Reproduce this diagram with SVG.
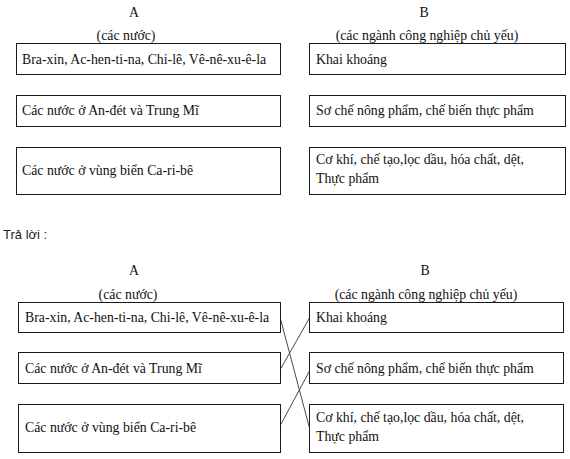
<svg xmlns="http://www.w3.org/2000/svg" width="570" height="459" viewBox="0 0 570 459">
<style>
.bx{fill:none;stroke:#1a1a1a;stroke-width:1}
.t{font-family:"Liberation Serif","Times New Roman",serif;font-size:13.8px;fill:#111}
.h{font-family:"Liberation Serif","Times New Roman",serif;font-size:13.8px;fill:#111;text-anchor:middle}
.s{font-family:"Liberation Sans",Arial,sans-serif;font-size:13px;fill:#222}
.ln{stroke:#333;stroke-width:0.9;fill:none}
</style>
<rect width="570" height="459" fill="#fff"/>
<g id="headers-top">
<text class="h" x="134" y="17">A</text>
<text class="h" x="126" y="40">(các nước)</text>
<text class="h" x="424" y="17">B</text>
<text class="h" x="427" y="40">(các ngành công nghiệp chủ yếu)</text>
</g>
<g id="top-a1"><rect class="bx" x="16.5" y="43.5" width="264" height="31"/><text class="t" x="22" y="64">Bra-xin, Ac-hen-ti-na, Chi-lê, Vê-nê-xu-ê-la</text></g>
<g id="top-a2"><rect class="bx" x="16.5" y="95.5" width="264" height="31"/><text class="t" x="22" y="115">Các nước ở An-đét và Trung Mĩ</text></g>
<g id="top-a3"><rect class="bx" x="16.5" y="147.5" width="264" height="47"/><text class="t" x="22" y="175">Các nước ở vùng biển Ca-ri-bê</text></g>
<g id="top-b1"><rect class="bx" x="309.5" y="43.5" width="256" height="31"/><text class="t" x="316" y="64">Khai khoáng</text></g>
<g id="top-b2"><rect class="bx" x="309.5" y="95.5" width="256" height="31"/><text class="t" x="316" y="115">Sơ chế nông phẩm, chế biến thực phẩm</text></g>
<g id="top-b3"><rect class="bx" x="309.5" y="147.5" width="256" height="47"/><text class="t" x="316" y="164">Cơ khí, chế tạo,lọc dầu, hóa chất, dệt,</text><text class="t" x="316" y="183">Thực phẩm</text></g>
<g id="answer-label"><text class="s" x="3" y="239">Trả lời :</text></g>
<g id="headers-bottom">
<text class="h" x="134" y="275">A</text>
<text class="h" x="128" y="299">(các nước)</text>
<text class="h" x="425" y="275">B</text>
<text class="h" x="426" y="299">(các ngành công nghiệp chủ yếu)</text>
</g>
<g id="bot-a1"><rect class="bx" x="18.5" y="302.5" width="262" height="30"/><text class="t" x="25" y="322">Bra-xin, Ac-hen-ti-na, Chi-lê, Vê-nê-xu-ê-la</text></g>
<g id="bot-a2"><rect class="bx" x="18.5" y="352.5" width="262" height="31"/><text class="t" x="25" y="373">Các nước ở An-đét và Trung Mĩ</text></g>
<g id="bot-a3"><rect class="bx" x="18.5" y="404.5" width="262" height="48"/><text class="t" x="25" y="432">Các nước ở vùng biển Ca-ri-bê</text></g>
<g id="bot-b1"><rect class="bx" x="309.5" y="302.5" width="254" height="30"/><text class="t" x="316" y="322">Khai khoáng</text></g>
<g id="bot-b2"><rect class="bx" x="309.5" y="352.5" width="254" height="31"/><text class="t" x="316" y="373">Sơ chế nông phẩm, chế biến thực phẩm</text></g>
<g id="bot-b3"><rect class="bx" x="309.5" y="404.5" width="254" height="48"/><text class="t" x="316" y="422">Cơ khí, chế tạo,lọc dầu, hóa chất, dệt,</text><text class="t" x="316" y="441">Thực phẩm</text></g>
<g id="connectors">
<line class="ln" x1="280.5" y1="319" x2="309.5" y2="428"/>
<line class="ln" x1="280.5" y1="369" x2="309.5" y2="318"/>
<line class="ln" x1="280.5" y1="425" x2="309.5" y2="371"/>
</g>
</svg>
